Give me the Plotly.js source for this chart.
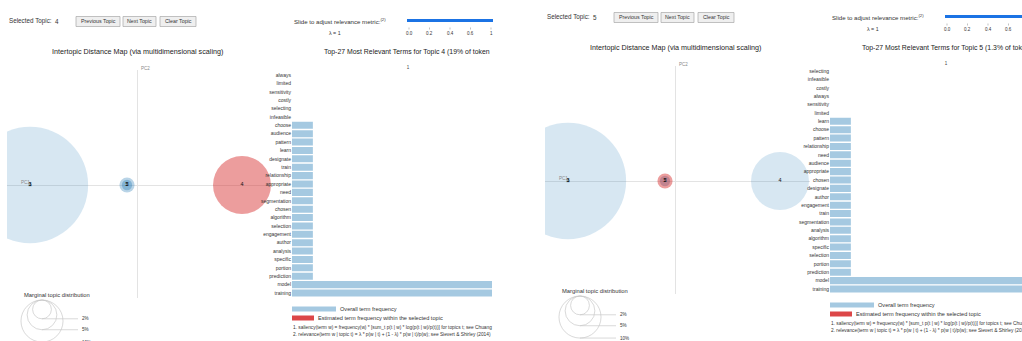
<!DOCTYPE html>
<html><head><meta charset="utf-8">
<script src="https://cdn.plot.ly/plotly-3.0.1.min.js"></script>
<style>html,body{margin:0;padding:0;background:#fff;overflow:hidden}#chart{width:1022px;height:341px}</style>
</head><body><div id="chart"></div>
<script>
// ---------------- data ----------------
const topicIds = ['1','2','3','4','5'];
const topicPC1 = [-0.214, -0.02, -0.214, 0.21, -0.02];
const topicPC2 = [0, 0, 0, 0, 0];
const topicPct = [76.4, 0.6, 0.1, 19.0, 1.3];
const legendPct = [2, 5, 10];
const sliderTicks = ['0.0','0.2','0.4','0.6','1'];
const termsTopic4 = ['always','limited','sensitivity','costly','selecting','infeasible','choose','audience','pattern','learn','designate','train','relationship','appropriate','need','segmentation','chosen','algorithm','selection','engagement','author','analysis','specific','portion','prediction','model','training'];
const freqTopic4 = [0,0,0,0,0,0,0.18,0.18,0.18,0.18,0.18,0.18,0.18,0.18,0.18,0.18,0.18,0.18,0.18,0.18,0.18,0.18,0.18,0.18,0.18,1.95,1.95];
const termsTopic5 = ['selecting','infeasible','costly','always','sensitivity','limited','learn','choose','pattern','relationship','need','audience','appropriate','chosen','designate','author','engagement','train','segmentation','analysis','algorithm','specific','selection','portion','prediction','model','training'];
const freqTopic5 = [0,0,0,0,0,0,0.18,0.18,0.18,0.18,0.18,0.18,0.18,0.18,0.18,0.18,0.18,0.18,0.18,0.18,0.18,0.18,0.18,0.18,0.18,1.95,1.95];

// ---------------- styles / layout ----------------
const W = 1022, H = 341;
const FONT = 'Liberation Sans, Arial, sans-serif';
const BLUE_LIGHT = 'rgba(31,119,180,0.25)';
const BLUE_SMALL = 'rgba(31,119,180,0.5)';
const RED_SEL = 'rgba(214,39,40,0.65)';
const BAR_BLUE = 'rgba(31,119,180,0.4)';
const px = x => x / W;
const py = y => 1 - y / H;
const diam = p => 2 * 6.65 * Math.sqrt(p);

const FOOT1 = '1. saliency(term w) = frequency(w) * [sum_t p(t | w) * log(p(t | w)/p(t))] for topics t; see Chuang et. al (2012)';
const FOOT1_CUT = '1. saliency(term w) = frequency(w) * [sum_t p(t | w) * log(p(t | w)/p(t))] for topics t; see Chuang';
const FOOT2 = '2. relevance(term w | topic t) = \u03bb * p(w | t) + (1 - \u03bb) * p(w | t)/p(w); see Sievert &amp; Shirley (2014)';

const panels = [
  {dx: 0, dy: 0, sel: '4', terms: termsTopic4, freq: freqTopic4, ax: ['', '2'], barRight: 492,
   topTitle: 'Top-27 Most Relevant Terms for Topic 4 (19% of token', foot1: FOOT1_CUT,
   colors: [BLUE_LIGHT, BLUE_SMALL, BLUE_LIGHT, RED_SEL, 'rgba(31,119,180,0.45)']},
  {dx: 538, dy: -4, sel: '5', terms: termsTopic5, freq: freqTopic5, ax: ['3', '4'], barRight: 1022,
   topTitle: 'Top-27 Most Relevant Terms for Topic 5 (1.3% of tokens)', foot1: FOOT1,
   colors: [BLUE_LIGHT, BLUE_SMALL, BLUE_LIGHT, BLUE_LIGHT, RED_SEL]}
];

const data = [], annotations = [], shapes = [];
const layout = {
  width: W, height: H, margin: {l: 0, r: 0, t: 0, b: 0},
  paper_bgcolor: '#fff', plot_bgcolor: 'rgba(0,0,0,0)',
  showlegend: false, bargap: 0.16, font: {family: FONT, color: '#333'},
  annotations, shapes
};

function ann(text, x, y, size, opts) {
  annotations.push(Object.assign({
    text, x: px(x), y: py(y), xref: 'paper', yref: 'paper', showarrow: false,
    xanchor: 'left', yanchor: 'middle', font: {size, family: FONT, color: '#333'}
  }, opts || {}));
}
function rect(x0, y0, x1, y1, fill, line) {
  shapes.push({type: 'rect', xref: 'paper', yref: 'paper', x0: px(x0), x1: px(x1), y0: py(y1), y1: py(y0),
    fillcolor: fill, line: line || {width: 0}, layer: 'above'});
}
function seg(x0, y0, x1, y1, color, width) {
  shapes.push({type: 'line', xref: 'paper', yref: 'paper', x0: px(x0), x1: px(x1), y0: py(y0), y1: py(y1),
    line: {color, width}, layer: 'above'});
}

panels.forEach((P, i) => {
  const dx = P.dx, dy = P.dy;
  const mx = 'x' + P.ax[0], my = 'y' + P.ax[0];
  const bx = 'x' + P.ax[1], by = 'y' + P.ax[1];
  const mxKey = 'xaxis' + P.ax[0], myKey = 'yaxis' + P.ax[0];
  const bxKey = 'xaxis' + P.ax[1], byKey = 'yaxis' + P.ax[1];

  // MDS axes
  layout[mxKey] = {domain: [px(7 + dx), px(272 + dx)], range: [-0.26, 0.27], anchor: my,
    showgrid: false, showticklabels: false, ticks: '', showline: false,
    zeroline: true, zerolinecolor: '#e3e3e3', zerolinewidth: 1, fixedrange: true};
  layout[myKey] = {domain: [py(298 + dy), py(70 + dy)], range: [-0.226, 0.23], anchor: mx,
    showgrid: false, showticklabels: false, ticks: '', showline: false,
    zeroline: true, zerolinecolor: '#e3e3e3', zerolinewidth: 1, fixedrange: true};

  data.push({type: 'scatter', mode: 'markers+text', x: topicPC1, y: topicPC2, text: topicIds,
    textposition: 'middle center', textfont: {size: 5.5, color: '#111', family: FONT},
    marker: {size: topicPct.map(diam), sizemode: 'diameter', color: P.colors, line: {width: 0}},
    xaxis: mx, yaxis: my, hoverinfo: 'skip', cliponaxis: true});

  // Bar axes
  const bLeft = 292 + dx;
  const bRight = Math.min(P.barRight, W);
  layout[bxKey] = {domain: [px(bLeft), px(bRight)], range: [0, (bRight - bLeft) / 116], anchor: by,
    side: 'top', tickmode: 'array', tickvals: [1], ticktext: ['1'], ticks: '',
    tickfont: {size: 4.5, color: '#444'}, showgrid: false, zeroline: false, showline: false, fixedrange: true};
  layout[byKey] = {domain: [py(297.2 + dy), py(70.8 + dy)], type: 'category', autorange: 'reversed', anchor: bx,
    tickmode: 'array', tickvals: P.terms, ticktext: P.terms, ticks: '',
    tickfont: {size: 5, color: '#333', family: FONT}, showgrid: false, zeroline: false, showline: false, fixedrange: true};

  data.push({type: 'bar', orientation: 'h', x: P.freq, y: P.terms, marker: {color: BAR_BLUE, line: {width: 0}},
    xaxis: bx, yaxis: by, hoverinfo: 'skip'});

  // Controls row
  const cy = 21.5 + dy;
  ann('Selected Topic:', 7 + dx, cy, 6.3);
  ann(P.sel, 53 + dx, cy, 6.3);
  [['Previous Topic', 76, 120], ['Next Topic', 123, 156], ['Clear Topic', 160, 196]].forEach(b => {
    rect(b[1] + dx, cy - 5, b[2] + dx, cy + 5, '#efefef', {color: '#a8a8a8', width: 0.7});
    ann(b[0], (b[1] + b[2]) / 2 + dx, cy, 5.3, {xanchor: 'center'});
  });

  // Slider
  ann('Slide to adjust relevance metric:<sup>(2)</sup>', 292 + dx, cy, 6.1);
  seg(407 + dx, 20.5 + dy, 493 + dx, 20.5 + dy, 'rgb(27,115,228)', 3);
  sliderTicks.forEach((t, k) => {
    const tx = 409 + k * 20.5 + dx;
    seg(tx, 27.5 + dy, tx, 29.5 + dy, '#999', 0.6);
    ann(t, tx, 33 + dy, 4.5, {xanchor: 'center'});
  });
  ann('\u03bb = 1', 327 + dx, 33 + dy, 5.3);

  // Titles
  ann('Intertopic Distance Map (via multidimensional scaling)', 137 + dx, 52 + dy, 7.2, {xanchor: 'center', font: {size: 7.2, family: FONT, color: '#222'}});
  ann(P.topTitle, 322 + dx, 52 + dy, 6.9, {font: {size: 6.9, family: FONT, color: '#222'}});

  // PC labels
  ann('PC1', 19 + dx, 182 + dy, 4.5, {font: {size: 4.5, family: FONT, color: '#888'}});
  ann('PC2', 139 + dx, 68 + dy, 4.5, {font: {size: 4.5, family: FONT, color: '#888'}});

  // Marginal topic distribution legend
  ann('Marginal topic distribution', 22 + dx, 295 + dy, 5.8);
  const cxL = 42 + dx, topL = 300 + dy;
  legendPct.forEach(p => {
    const r = diam(p) / 2;
    shapes.push({type: 'circle', xref: 'paper', yref: 'paper', x0: px(cxL - r), x1: px(cxL + r),
      y0: py(topL + 2 * r), y1: py(topL), line: {color: '#c8c8c8', width: 0.7}, fillcolor: 'rgba(0,0,0,0)', layer: 'above'});
    seg(cxL, topL + 2 * r, 78 + dx, topL + 2 * r, '#c8c8c8', 0.7);
    ann(p + '%', 80 + dx, topL + 2 * r, 4.6);
  });

  // Bar legend
  rect(292 + dx, 306.5 + dy, 336 + dx, 311.5 + dy, BAR_BLUE);
  ann('Overall term frequency', 338 + dx, 309 + dy, 5.6);
  rect(292 + dx, 315.5 + dy, 314 + dx, 320.5 + dy, 'rgba(214,39,40,0.85)');
  ann('Estimated term frequency within the selected topic', 316 + dx, 318 + dy, 5.6);
  ann(P.foot1, 291 + dx, 327 + dy, 4.8);
  ann(FOOT2, 291 + dx, 334 + dy, 4.8);
});

Plotly.newPlot('chart', data, layout, {staticPlot: true, displayModeBar: false});
</script>
</body></html>
